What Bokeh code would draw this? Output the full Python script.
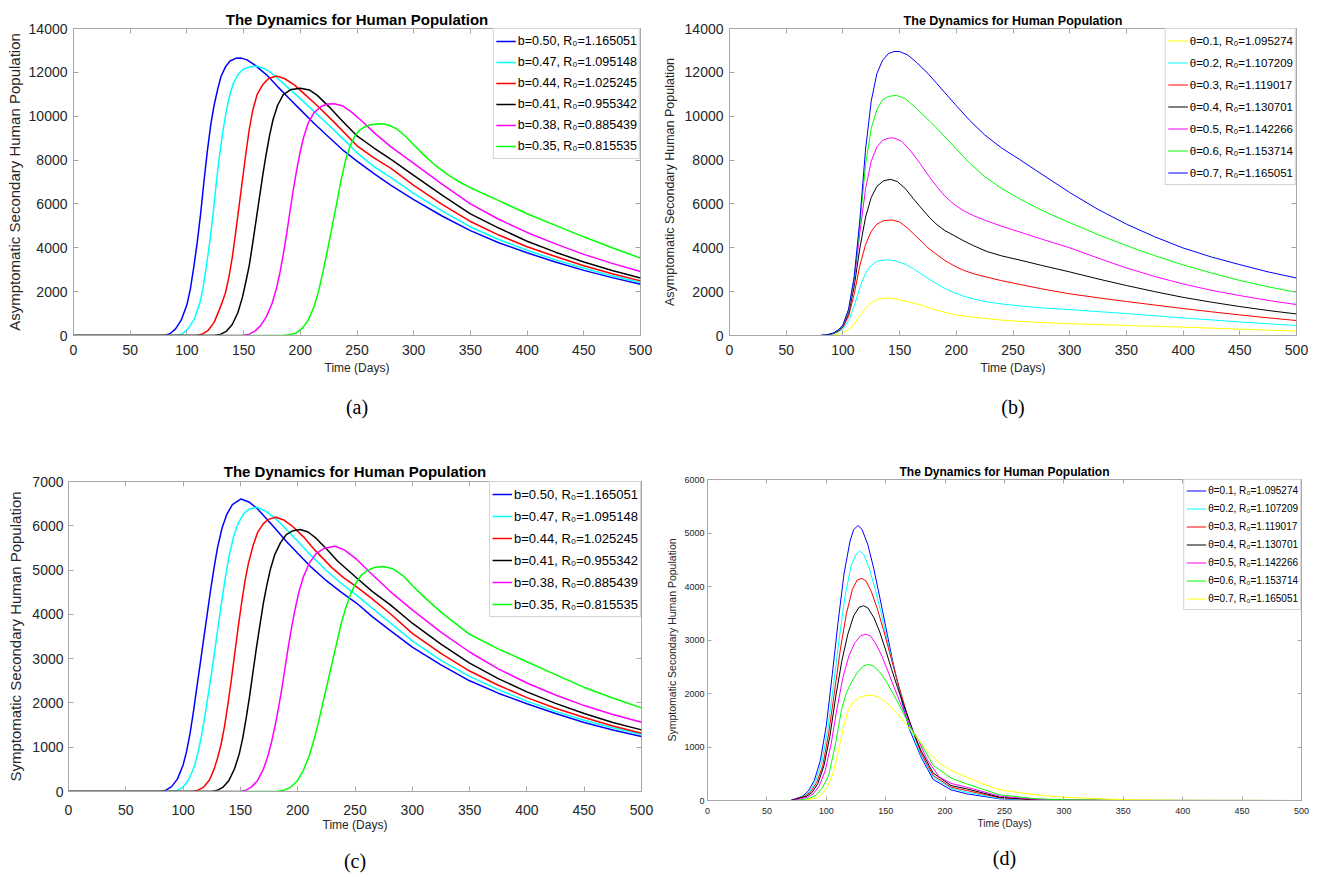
from bokeh.plotting import figure
from bokeh.layouts import column, row
from bokeh.models import (Range1d, FixedTicker, LinearAxis, Legend, LegendItem,
                          Title, CustomJSTickFormatter)
from bokeh.embed import file_html
from bokeh.resources import INLINE

# ---------------- shared ----------------
X_TICKS = [0, 50, 100, 150, 200, 250, 300, 350, 400, 450, 500]
TITLE = "The Dynamics for Human Population"
X_LABEL = "Time (Days)"
B_LABELS = ["b=0.50, R\u2080=1.165051", "b=0.47, R\u2080=1.095148", "b=0.44, R\u2080=1.025245",
            "b=0.41, R\u2080=0.955342", "b=0.38, R\u2080=0.885439", "b=0.35, R\u2080=0.815535"]
B_COLORS = ["#0000ff", "#00ffff", "#ff0000", "#000000", "#ff00ff", "#00ff00"]

# ---------------- panel (a) ----------------
A_YLABEL = "Asymptomatic Secondary Human Population"
A_YTICKS = [0, 2000, 4000, 6000, 8000, 10000, 12000, 14000]
A1_T = [0, 80, 85, 90, 95, 100, 103, 106, 109, 112, 115, 118, 121, 124, 127, 130, 134, 138, 143, 148, 153, 160, 170, 180, 190, 200, 212, 225, 237, 250, 265, 280, 300, 325, 350, 375, 400, 425, 450, 475, 500]
A1_Y = [0, 0, 80, 300, 700, 1400, 2100, 3100, 4200, 5500, 7000, 8400, 9600, 10500, 11200, 11800, 12250, 12520, 12640, 12650, 12570, 12330, 11900, 11350, 10820, 10300, 9680, 9050, 8480, 7950, 7380, 6850, 6200, 5450, 4780, 4230, 3770, 3350, 2970, 2640, 2340]
A2_T = [0, 91, 96, 101, 106, 111, 114, 117, 120, 123, 126, 129, 132, 135, 138, 141, 145, 150, 156, 162, 168, 175, 185, 200, 212, 225, 237, 250, 265, 280, 300, 325, 350, 375, 400, 425, 450, 475, 500]
A2_Y = [0, 0, 80, 300, 700, 1400, 2100, 3100, 4200, 5500, 7000, 8300, 9400, 10300, 11000, 11500, 11900, 12150, 12260, 12280, 12180, 11950, 11500, 10800, 10220, 9600, 9000, 8330, 7700, 7200, 6480, 5680, 4950, 4380, 3890, 3450, 3070, 2720, 2420]
A3_T = [0, 108, 114, 119, 124, 128, 131, 134, 137, 140, 143, 146, 149, 152, 155, 158, 162, 167, 172, 179, 186, 195, 205, 215, 230, 250, 265, 280, 300, 325, 350, 375, 400, 425, 450, 475, 500]
A3_Y = [0, 0, 70, 250, 600, 1100, 1500, 1950, 2650, 3550, 4700, 5900, 7100, 8300, 9400, 10250, 11000, 11450, 11720, 11830, 11720, 11420, 10950, 10480, 9720, 8650, 8100, 7620, 6850, 5980, 5200, 4580, 4050, 3600, 3180, 2820, 2490]
A4_T = [0, 124, 130, 135, 140, 145, 149, 152, 155, 158, 161, 164, 167, 170, 173, 176, 180, 185, 192, 200, 208, 215, 225, 235, 250, 265, 280, 300, 325, 350, 375, 400, 425, 450, 475, 500]
A4_Y = [0, 0, 60, 200, 500, 1050, 1750, 2450, 3200, 4200, 5250, 6300, 7350, 8300, 9150, 9850, 10500, 10980, 11220, 11280, 11200, 10950, 10450, 9900, 9100, 8550, 8030, 7300, 6400, 5550, 4900, 4300, 3800, 3350, 2960, 2620]
A5_T = [0, 148, 155, 160, 165, 170, 175, 179, 182, 185, 188, 191, 194, 197, 200, 203, 207, 212, 218, 224, 230, 237, 245, 255, 265, 280, 300, 325, 350, 375, 400, 425, 450, 475, 500]
A5_Y = [0, 0, 60, 200, 450, 850, 1450, 2150, 2850, 3700, 4650, 5700, 6700, 7600, 8400, 9050, 9700, 10150, 10430, 10560, 10570, 10480, 10200, 9750, 9250, 8600, 7850, 6900, 6000, 5300, 4700, 4180, 3700, 3290, 2920]
A6_T = [0, 184, 190, 196, 202, 207, 212, 216, 220, 224, 228, 232, 236, 240, 244, 248, 252, 257, 262, 267, 272, 278, 285, 292, 300, 310, 320, 330, 340, 350, 375, 400, 425, 450, 475, 500]
A6_Y = [0, 0, 40, 100, 350, 700, 1300, 2000, 2900, 3900, 4950, 6000, 7100, 8000, 8650, 9080, 9350, 9520, 9610, 9650, 9660, 9600, 9420, 9120, 8700, 8180, 7720, 7340, 7010, 6740, 6150, 5550, 5020, 4500, 4000, 3530]

# ---------------- panel (b) ----------------
T_LABELS_B = ["\u03b8=0.1, R\u2080=1.095274", "\u03b8=0.2, R\u2080=1.107209", "\u03b8=0.3, R\u2080=1.119017",
              "\u03b8=0.4, R\u2080=1.130701", "\u03b8=0.5, R\u2080=1.142266", "\u03b8=0.6, R\u2080=1.153714",
              "\u03b8=0.7, R\u2080=1.165051"]
T_COLORS_B = ["#ffff00", "#00ffff", "#ff0000", "#000000", "#ff00ff", "#00ff00", "#0000ff"]
B7_T = [0, 80, 86, 92, 97, 100, 105, 110, 115, 120, 125, 130, 135, 140, 145, 150, 157, 165, 175, 183, 192, 200, 212, 225, 240, 256, 270, 285, 300, 325, 350, 375, 400, 425, 450, 475, 500]
B7_Y = [0, 0, 30, 120, 300, 480, 1200, 2700, 5300, 8500, 10700, 11950, 12550, 12850, 12950, 12950, 12800, 12450, 11950, 11480, 10950, 10480, 9800, 9150, 8550, 8020, 7540, 7030, 6520, 5750, 5080, 4500, 3990, 3580, 3230, 2900, 2620]
B6_T = [0, 80, 86, 92, 97, 100, 105, 110, 115, 120, 125, 130, 135, 140, 147, 155, 165, 175, 183, 192, 200, 212, 225, 240, 256, 270, 285, 300, 325, 350, 375, 400, 425, 450, 475, 500]
B6_Y = [0, 0, 30, 115, 290, 460, 1150, 2600, 5100, 7800, 9450, 10300, 10750, 10900, 10950, 10800, 10350, 9850, 9440, 8950, 8500, 7850, 7250, 6700, 6230, 5850, 5480, 5150, 4600, 4100, 3640, 3220, 2850, 2510, 2220, 1970]
B5_T = [0, 80, 86, 92, 97, 100, 105, 110, 115, 120, 125, 130, 135, 140, 145, 152, 160, 168, 176, 183, 190, 198, 206, 215, 225, 240, 256, 275, 300, 325, 350, 375, 400, 425, 450, 475, 500]
B5_Y = [0, 0, 28, 110, 280, 440, 1100, 2500, 4700, 6700, 7950, 8600, 8900, 9000, 9010, 8850, 8400, 7850, 7250, 6780, 6350, 5980, 5700, 5470, 5260, 4980, 4720, 4400, 4000, 3530, 3080, 2690, 2350, 2060, 1820, 1600, 1410]
B4_T = [0, 80, 86, 92, 97, 100, 105, 110, 115, 120, 125, 130, 136, 142, 148, 155, 162, 168, 176, 183, 190, 198, 206, 215, 227, 240, 256, 275, 300, 325, 350, 375, 400, 425, 450, 475, 500]
B4_Y = [0, 0, 27, 105, 260, 410, 1000, 2250, 4000, 5400, 6300, 6800, 7060, 7120, 7020, 6700, 6250, 5880, 5400, 5050, 4780, 4560, 4330, 4100, 3830, 3630, 3440, 3200, 2900, 2580, 2280, 2000, 1740, 1520, 1320, 1140, 982]
B3_T = [0, 80, 86, 92, 97, 100, 105, 110, 115, 120, 125, 130, 136, 143, 150, 157, 163, 168, 175, 183, 190, 198, 206, 215, 227, 240, 256, 275, 300, 325, 350, 375, 400, 425, 450, 475, 500]
B3_Y = [0, 0, 25, 95, 230, 370, 880, 1900, 3200, 4150, 4750, 5080, 5240, 5270, 5180, 4900, 4600, 4360, 4000, 3680, 3420, 3180, 2980, 2820, 2660, 2500, 2330, 2130, 1900, 1720, 1550, 1390, 1230, 1080, 940, 805, 682]
B2_T = [0, 80, 86, 92, 97, 100, 105, 110, 115, 120, 125, 130, 135, 140, 147, 155, 162, 168, 175, 183, 190, 198, 206, 215, 227, 240, 256, 275, 300, 325, 350, 375, 400, 425, 450, 475, 500]
B2_Y = [0, 0, 20, 75, 180, 290, 680, 1350, 2200, 2850, 3200, 3380, 3440, 3450, 3390, 3250, 3050, 2850, 2600, 2350, 2150, 1950, 1800, 1670, 1530, 1440, 1350, 1260, 1180, 1090, 1000, 900, 800, 710, 620, 535, 454]
B1_T = [0, 85, 92, 97, 100, 105, 110, 115, 120, 125, 130, 134, 139, 147, 155, 162, 168, 175, 183, 190, 198, 206, 215, 227, 240, 256, 275, 300, 350, 400, 450, 500]
B1_Y = [0, 0, 30, 80, 130, 250, 520, 900, 1250, 1500, 1640, 1690, 1710, 1660, 1570, 1480, 1400, 1280, 1150, 1050, 960, 890, 830, 770, 700, 645, 590, 540, 460, 380, 290, 200]

# ---------------- panel (c) ----------------
C_YLABEL = "Symptomatic Secondary Human Population"
C_YTICKS = [0, 1000, 2000, 3000, 4000, 5000, 6000, 7000]
C1_T = [0, 80, 85, 90, 95, 100, 103, 106, 109, 112, 115, 118, 121, 124, 127, 130, 134, 138, 143, 150.6, 158, 165, 172, 180, 190, 200, 212, 225, 237, 251.5, 265, 280.6, 300, 325, 350, 375, 400, 425, 450, 475, 500]
C1_Y = [0, 0, 30, 110, 280, 600, 900, 1300, 1800, 2350, 2900, 3450, 4000, 4550, 5050, 5500, 5950, 6250, 6480, 6606, 6530, 6380, 6180, 5950, 5650, 5380, 5060, 4760, 4520, 4250, 3950, 3640, 3260, 2860, 2500, 2220, 1980, 1760, 1560, 1390, 1241]
C2_T = [0, 90, 95, 100, 105, 110, 113, 116, 119, 122, 125, 128, 131, 134, 137, 140, 144, 148, 153, 158, 164.3, 172, 180, 190, 200, 212, 225, 237, 251.5, 265, 280.6, 300, 325, 350, 375, 400, 425, 450, 475, 500]
C2_Y = [0, 0, 30, 100, 270, 580, 880, 1250, 1700, 2200, 2700, 3250, 3800, 4350, 4850, 5300, 5750, 6050, 6280, 6380, 6418, 6330, 6180, 5920, 5650, 5320, 4990, 4720, 4430, 4140, 3810, 3400, 2960, 2600, 2300, 2040, 1810, 1610, 1440, 1286]
C3_T = [0, 108, 113, 118, 123, 127, 130, 133, 136, 139, 142, 145, 148, 151, 154, 157, 161, 165, 170, 175, 180.9, 188, 195, 205, 215, 230, 240, 251.5, 265, 280.6, 300, 325, 350, 375, 400, 425, 450, 475, 500]
C3_Y = [0, 0, 30, 100, 260, 500, 750, 1050, 1450, 1950, 2500, 3100, 3700, 4250, 4750, 5150, 5550, 5850, 6050, 6150, 6193, 6130, 6000, 5750, 5450, 5050, 4830, 4620, 4350, 4020, 3570, 3120, 2720, 2400, 2120, 1880, 1670, 1480, 1316]
C4_T = [0, 125, 130, 135, 140, 145, 149, 152, 155, 158, 161, 164, 167, 170, 173, 176, 180, 185, 190, 196, 202.1, 209, 216, 225, 235, 251.5, 265, 280.6, 300, 325, 350, 375, 400, 425, 450, 475, 500]
C4_Y = [0, 0, 30, 100, 250, 520, 850, 1200, 1650, 2150, 2700, 3250, 3750, 4250, 4650, 5000, 5350, 5620, 5800, 5890, 5915, 5860, 5720, 5480, 5200, 4820, 4520, 4220, 3800, 3330, 2900, 2550, 2250, 1990, 1760, 1560, 1392]
C5_T = [0, 150, 155, 160, 165, 170, 174, 177, 180, 183, 186, 189, 192, 195, 198, 201, 205, 210, 216, 224, 232.6, 241, 251.5, 265, 280.6, 300, 325, 350, 375, 400, 425, 450, 475, 500]
C5_Y = [0, 0, 30, 110, 250, 500, 800, 1100, 1450, 1850, 2300, 2800, 3300, 3750, 4150, 4500, 4850, 5150, 5370, 5500, 5538, 5450, 5240, 4900, 4520, 4100, 3600, 3150, 2770, 2450, 2180, 1940, 1740, 1564]
C6_T = [0, 182, 188, 194, 200, 205, 210, 214, 218, 222, 226, 230, 234, 238, 242, 246, 250, 255, 260, 267, 274.8, 283, 292, 300, 310, 325, 350, 375, 400, 425, 450, 475, 500]
C6_Y = [0, 0, 30, 100, 250, 480, 800, 1150, 1550, 2000, 2450, 2900, 3350, 3800, 4150, 4450, 4670, 4870, 4980, 5060, 5080, 5030, 4870, 4650, 4400, 4050, 3550, 3220, 2930, 2640, 2350, 2110, 1888]

# ---------------- panel (d) ----------------
D_YTICKS = [0, 1000, 2000, 3000, 4000, 5000, 6000]
T_LABELS_D = T_LABELS_B
T_COLORS_D = ["#0000ff", "#00ffff", "#ff0000", "#000000", "#ff00ff", "#00ff00", "#ffff00"]
D1_T = [0, 70, 80, 85, 90, 95, 100, 105, 110, 115, 120, 123, 126.6, 130, 135, 140, 145, 150, 155, 160, 165, 170, 180, 190, 205, 218, 246, 275, 300, 350, 500]
D1_Y = [0, 0, 80, 180, 380, 750, 1400, 2350, 3350, 4250, 4850, 5060, 5140, 5070, 4780, 4330, 3800, 3250, 2700, 2200, 1730, 1330, 800, 393, 200, 125, 31, 8, 2, 0, 0]
D2_T = [0, 70, 81, 86, 91, 96, 101, 106, 111, 116, 121, 125, 128, 131.5, 136, 141, 146, 151, 156, 161, 166, 171, 180, 190, 205, 218, 246, 275, 300, 350, 500]
D2_Y = [0, 0, 80, 170, 360, 700, 1300, 2150, 3050, 3850, 4400, 4600, 4664, 4600, 4350, 3960, 3520, 3030, 2560, 2120, 1700, 1320, 830, 437, 230, 156, 37, 10, 3, 0, 0]
D3_T = [0, 70, 82, 87, 92, 97, 102, 107, 112, 117, 122, 126, 129.9, 133.5, 138, 143, 148, 153, 158, 163, 168, 173, 180, 190, 205, 218, 246, 275, 300, 350, 500]
D3_Y = [0, 0, 80, 165, 340, 650, 1250, 2050, 2850, 3500, 3950, 4120, 4152, 4100, 3900, 3580, 3200, 2790, 2380, 1990, 1620, 1290, 870, 468, 250, 187, 50, 14, 4, 0, 0]
D4_T = [0, 70, 83, 88, 93, 98, 103, 108, 113, 118, 123, 127.5, 131.4, 135, 140, 145, 150, 155, 160, 165, 170, 175, 180, 190, 205, 218, 246, 275, 300, 350, 500]
D4_Y = [0, 0, 75, 150, 320, 650, 1200, 1950, 2600, 3100, 3450, 3610, 3640, 3600, 3420, 3150, 2810, 2450, 2110, 1790, 1480, 1180, 920, 512, 280, 219, 62, 18, 6, 1, 0]
D5_T = [0, 72, 84, 89, 94, 99, 104, 109, 114, 119, 124, 129, 133.3, 137.5, 142, 147, 152, 157, 162, 167, 172, 178, 185, 195, 205, 218, 246, 275, 300, 350, 500]
D5_Y = [0, 0, 60, 125, 270, 550, 1050, 1720, 2300, 2700, 2950, 3080, 3109, 3070, 2920, 2690, 2410, 2120, 1840, 1580, 1340, 1100, 760, 440, 320, 250, 81, 25, 8, 2, 0]
D6_T = [0, 75, 86, 92, 97, 102, 108, 113, 117, 121.5, 126, 131, 135.5, 140, 145, 150, 157, 164, 171, 180, 190, 205, 218, 246, 275, 300, 350, 500]
D6_Y = [0, 0, 40, 110, 250, 470, 1090, 1720, 2020, 2220, 2390, 2510, 2547, 2510, 2400, 2240, 1970, 1670, 1360, 1050, 655, 420, 312, 106, 35, 12, 3, 0]
D7_T = [0, 80, 92, 97, 101, 105, 108.5, 111.7, 115, 118.7, 123, 128, 133, 138.9, 145, 152, 160, 168, 176, 185, 195, 205, 218, 233, 246, 275, 300, 350, 400, 500]
D7_Y = [0, 0, 50, 130, 260, 470, 760, 1090, 1420, 1700, 1850, 1930, 1960, 1967, 1920, 1800, 1620, 1400, 1180, 930, 700, 560, 437, 300, 200, 110, 60, 15, 3, 0]

FONT = "Liberation Sans"
SERIF = "Liberation Serif"
AXIS_GRAY = "#a8a8a8"
TEXT_DARK = "#262626"


def panel(cfg):
    p = figure(width=cfg["w"], height=cfg["h"], output_backend="svg", toolbar_location=None,
               x_range=Range1d(0, 500), y_range=Range1d(0, cfg["ymax"]),
               min_border_left=cfg["bl"], min_border_right=cfg["br"],
               min_border_top=cfg["bt"], min_border_bottom=cfg["bb"])
    p.background_fill_color = "white"
    p.border_fill_color = "white"
    p.outline_line_color = AXIS_GRAY
    p.xgrid.visible = False
    p.ygrid.visible = False

    p.title.text = TITLE
    p.title.align = "center"
    p.title.text_font = FONT
    p.title.text_font_size = cfg["title_size"]
    p.title.text_font_style = "bold"
    p.title.text_color = "black"
    p.title.standoff = cfg["title_standoff"]

    for ax, ticks, lab, ls, ts in ((p.xaxis[0], X_TICKS, X_LABEL, cfg["xl_size"], cfg["xtick_size"]),
                                   (p.yaxis[0], cfg["yticks"], cfg["ylabel"], cfg["yl_size"], cfg["ytick_size"])):
        ax.ticker = FixedTicker(ticks=ticks)
        ax.axis_label = lab
        ax.axis_label_text_font = FONT
        ax.axis_label_text_font_size = ls
        ax.axis_label_text_font_style = "normal"
        ax.axis_label_text_color = TEXT_DARK
        ax.major_label_text_font = FONT
        ax.major_label_text_font_size = ts
        ax.major_label_text_color = TEXT_DARK
        ax.axis_line_color = AXIS_GRAY
        ax.major_tick_line_color = AXIS_GRAY
        ax.major_tick_in = cfg["tick_len"]
        ax.major_tick_out = 0
        ax.minor_tick_line_color = None
    p.xaxis[0].major_label_standoff = cfg["x_std"]
    p.xaxis[0].axis_label_standoff = cfg["x_lstd"]
    p.yaxis[0].major_label_standoff = cfg["y_std"]
    p.yaxis[0].axis_label_standoff = cfg["y_lstd"]

    # box ticks on top and right (no labels)
    blank = CustomJSTickFormatter(code="return ''")
    top = LinearAxis(ticker=FixedTicker(ticks=X_TICKS), formatter=blank,
                     major_tick_in=cfg["tick_len"], major_tick_out=0,
                     major_tick_line_color=AXIS_GRAY, minor_tick_line_color=None,
                     axis_line_color=None, major_label_standoff=0,
                     major_label_text_font_size="1px")
    right = LinearAxis(ticker=FixedTicker(ticks=cfg["yticks"]), formatter=blank,
                       major_tick_in=cfg["tick_len"], major_tick_out=0,
                       major_tick_line_color=AXIS_GRAY, minor_tick_line_color=None,
                       axis_line_color=None, major_label_standoff=0,
                       major_label_text_font_size="1px")
    p.add_layout(top, "above")
    p.add_layout(right, "right")

    items = []
    for (t, y), lab, col in zip(cfg["series"], cfg["labels"], cfg["colors"]):
        r = p.line(t, y, line_color=col, line_width=cfg["lw"])
        items.append(LegendItem(label=lab, renderers=[r]))
    leg = Legend(items=items, location="top_right", margin=0, padding=cfg["lpad"],
                 spacing=cfg["lsp"], label_height=cfg["lh"], glyph_height=cfg["lh"],
                 glyph_width=cfg["gw"], label_standoff=2,
                 label_text_font=FONT, label_text_font_size=cfg["leg_size"],
                 label_text_color="black", border_line_color=AXIS_GRAY,
                 background_fill_color="white", background_fill_alpha=1.0)
    p.add_layout(leg)

    # vertical gap between the x-axis label and the panel letter
    p.add_layout(Title(text=" ", text_font_size="1px", standoff=cfg["gap"]), "below")
    p.add_layout(Title(text=cfg["letter"], align="center", text_font=SERIF,
                       text_font_size="20px", text_font_style="normal",
                       text_color="black", standoff=0), "below")
    return p


base_big = dict(title_size="15px", xtick_size="14px", ytick_size="14px", xl_size="12px",
                tick_len=5, lw=1.5, lpad=2, gw=20, title_standoff=2,
                x_std=9, x_lstd=3, y_std=6, y_lstd=3)

fa = panel(dict(base_big, w=659, h=440, bl=73, br=19, bt=28, bb=105, ymax=14000,
                yticks=A_YTICKS, ylabel=A_YLABEL, yl_size="15px",
                series=[(A1_T, A1_Y), (A2_T, A2_Y), (A3_T, A3_Y), (A4_T, A4_Y), (A5_T, A5_Y), (A6_T, A6_Y)],
                labels=B_LABELS, colors=B_COLORS, lh=20, lsp=1, leg_size="12.5px",
                letter="(a)", gap=13))

fb = panel(dict(base_big, w=654, h=440, bl=70, br=17, bt=28, bb=105, ymax=14000,
                title_size="12.5px", lw=1.0,
                yticks=A_YTICKS, ylabel=A_YLABEL, yl_size="12.5px", y_lstd=5,
                series=[(B1_T, B1_Y), (B2_T, B2_Y), (B3_T, B3_Y), (B4_T, B4_Y), (B5_T, B5_Y), (B6_T, B6_Y), (B7_T, B7_Y)],
                labels=T_LABELS_B, colors=T_COLORS_B, lh=19, lsp=3, leg_size="11.5px",
                letter="(b)", gap=13))

fc = panel(dict(base_big, w=660, h=437, bl=68, br=19, bt=41, bb=86, ymax=7000,
                title_standoff=4,
                yticks=C_YTICKS, ylabel=C_YLABEL, yl_size="15px", y_std=5, y_lstd=5,
                x_std=13, x_lstd=0,
                series=[(C1_T, C1_Y), (C2_T, C2_Y), (C3_T, C3_Y), (C4_T, C4_Y), (C5_T, C5_Y), (C6_T, C6_Y)],
                labels=B_LABELS, colors=B_COLORS, lh=20, lsp=2, leg_size="13px",
                letter="(c)", gap=10))

fd = panel(dict(base_big, w=653, h=437, bl=47, br=12, bt=39, bb=77, ymax=6000,
                title_size="12px", xtick_size="9px", ytick_size="9px", xl_size="10px", lw=1.0,
                title_standoff=2,
                tick_len=4, x_std=7, x_lstd=1, y_std=3, y_lstd=3,
                yticks=D_YTICKS, ylabel=C_YLABEL, yl_size="10.5px",
                series=[(D1_T, D1_Y), (D2_T, D2_Y), (D3_T, D3_Y), (D4_T, D4_Y), (D5_T, D5_Y), (D6_T, D6_Y), (D7_T, D7_Y)],
                labels=T_LABELS_D, colors=T_COLORS_D, lh=17, lsp=1, leg_size="10px",
                letter="(d)", gap=10))

# each figure sits in its own column so that frames are not aligned across a row
layout = column(row(column(fa), column(fb)), row(column(fc), column(fd)))
open("out.html", "w").write(file_html(layout, INLINE))
